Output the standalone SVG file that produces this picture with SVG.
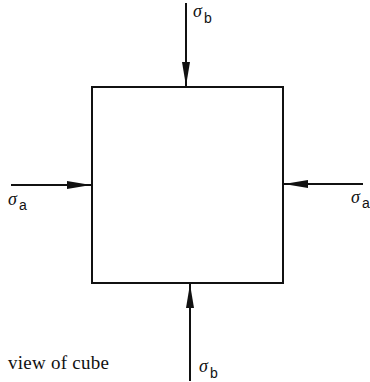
<svg xmlns="http://www.w3.org/2000/svg" width="370" height="382" viewBox="0 0 370 382">
<defs>
<style>
.edge{stroke:#111;stroke-width:2;fill:none}
.box{stroke:#111;stroke-width:2;fill:#fff}
.sig{font-family:"Liberation Serif","Times New Roman",serif;font-style:italic;font-size:18px;fill:#111}
.sub{font-family:"Liberation Sans",Arial,sans-serif;font-size:14px;fill:#111}
.cap{font-family:"Liberation Serif","Times New Roman",serif;font-size:19px;fill:#111}
</style>
<marker id="ah" markerUnits="userSpaceOnUse" markerWidth="24" markerHeight="9" refX="24" refY="4.5" orient="auto" viewBox="0 0 24 9">
<path d="M0,0.5 L24,4.5 L0,8.5 z" fill="#111"/>
</marker>
</defs>
<rect width="370" height="382" fill="#fff"/>
<g id="cube">
<rect class="box" x="92" y="87" width="191" height="196"/>
</g>
<g id="connectors">
<line class="edge" x1="186" y1="3" x2="186" y2="86" marker-end="url(#ah)"/>
<line class="edge" x1="190" y1="381" x2="190" y2="284" marker-end="url(#ah)"/>
<line class="edge" x1="11" y1="185" x2="91" y2="185" marker-end="url(#ah)"/>
<line class="edge" x1="363" y1="184" x2="284" y2="184" marker-end="url(#ah)"/>
</g>
<g id="label-top"><text class="sig" x="193" y="17">σ</text><text class="sub" x="204" y="23">b</text></g>
<g id="label-left"><text class="sig" x="8" y="205">σ</text><text class="sub" x="19" y="210">a</text></g>
<g id="label-right"><text class="sig" x="351" y="203">σ</text><text class="sub" x="362" y="208">a</text></g>
<g id="label-bottom"><text class="sig" x="199" y="372">σ</text><text class="sub" x="210" y="378">b</text></g>
<g id="caption"><text class="cap" x="8" y="369" textLength="101" lengthAdjust="spacing">view of cube</text></g>
</svg>
